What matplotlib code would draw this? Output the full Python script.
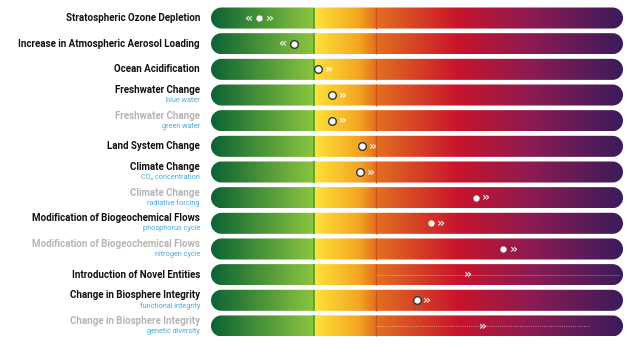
import numpy as np
import matplotlib.pyplot as plt
from matplotlib.colors import LinearSegmentedColormap
from matplotlib.patches import PathPatch
from matplotlib.path import Path

plt.rcParams['font.family'] = ['Roboto', 'DejaVu Sans']

# Planetary boundaries, position on a 0-100 scale (25 = boundary, 40 = high risk)
titles = ["Stratospheric Ozone Depletion", "Increase in Atmospheric Aerosol Loading",
          "Ocean Acidification", "Freshwater Change", "Freshwater Change",
          "Land System Change", "Climate Change", "Climate Change",
          "Modification of Biogeochemical Flows", "Modification of Biogeochemical Flows",
          "Introduction of Novel Entities", "Change in Biosphere Integrity",
          "Change in Biosphere Integrity"]
subtitles = ["", "", "", "blue water", "green water", "", "CO₂ concentration",
             "radiative forcing", "phosphorus cycle", "nitrogen cycle", "",
             "functional integrity", "genetic diversity"]
greyed = [False, False, False, False, True, False, False, True, False, True,
          False, False, True]
values = [11.7, 20.1, 26.0, 29.4, 29.4, 36.7, 36.2, 64.3, 53.4, 70.9, None, 50.0, None]
outlined = [False, True, True, True, True, True, True, False, False, False, False, True, False]
arrow_right = [True, False, True, True, True, True, True, True, True, True, True, True, True]
arrow_left = [True, True, False, False, False, False, False, False, False, False, False, False, False]
arrow_only_x = [None] * 10 + [62.4, None, 66.0]
range_lines = {10: (40, 99, '-'), 12: (40, 92, ':')}

safe_limit = 25
high_risk = 40

stops = [(0.0, "#0c6334"), (0.2499, "#8cc63f"), (0.25, "#ffe23a"),
         (0.36, "#f3a521"), (0.40, "#e3701f"), (0.60, "#c8142c"),
         (0.78, "#8c1b52"), (1.0, "#3b1b5c")]
cmap = LinearSegmentedColormap.from_list("pb", stops)

fig = plt.figure(figsize=(6.4, 3.6), dpi=100)
ax = fig.add_axes([211 / 640, 21.2 / 360, 412 / 640, 333.6 / 360])
n = len(titles)
ax.set_xlim(0, 100)
ax.set_ylim(n - 0.5, -0.5)
ax.axis('off')

bar_h = 0.82
rx = (bar_h / 2) * 25.67 * 100 / 412   # half-height in x units, so ends are round
ry = bar_h / 2
grad = np.linspace(0, 1, 512).reshape(1, -1)


def stadium(yc):
    t1 = np.linspace(np.pi / 2, 3 * np.pi / 2, 40)
    t2 = np.linspace(-np.pi / 2, np.pi / 2, 40)
    left = np.column_stack([rx + rx * np.cos(t1), yc - ry * np.sin(t1)])
    right = np.column_stack([100 - rx + rx * np.cos(t2), yc - ry * np.sin(t2)])
    pts = np.vstack([left, right, left[:1]])
    return Path(pts, closed=True)


for i in range(n):
    box = PathPatch(stadium(i), facecolor='none', edgecolor='none')
    ax.add_patch(box)
    im = ax.imshow(grad, cmap=cmap, extent=(0, 100, i + bar_h / 2, i - bar_h / 2),
                   aspect='auto', interpolation='bilinear')
    im.set_clip_path(box)
    ax.plot([safe_limit, safe_limit], [i - bar_h / 2, i + bar_h / 2],
            color="#3f9a2a", lw=1.1, solid_capstyle='butt')
    ax.plot([high_risk, high_risk], [i - bar_h / 2, i + bar_h / 2],
            color="#cf4f1c", lw=0.9, solid_capstyle='butt')

    if i in range_lines:
        x0, x1, ls = range_lines[i]
        ax.plot([x0, x1], [i, i], color='white', lw=0.6, ls=ls,
                alpha=0.25 if ls == '-' else 0.6)

    v = values[i]
    akw = dict(color='white', alpha=0.85, fontsize=9, fontweight='bold',
               ha='center', va='center', family='DejaVu Sans', zorder=5)
    if v is not None:
        if outlined[i]:
            ax.plot(v, i, 'o', ms=5.5, mfc='white', mec='#333333', mew=1.0, zorder=5)
        else:
            ax.plot(v, i, 'o', ms=4.5, mfc='white', mec='white', mew=0, zorder=5)
        if arrow_right[i]:
            ax.text(v + 2.5, i, "»", **akw)
        if arrow_left[i]:
            ax.text(v - 2.5, i, "«", **akw)
    elif arrow_only_x[i] is not None:
        ax.text(arrow_only_x[i], i, "»", **akw)

    tcol = "#b5b5b5" if greyed[i] else "#111111"
    tx = ax.get_yaxis_transform()
    if subtitles[i]:
        ax.text(-0.027, i - 0.19, titles[i], transform=tx, ha='right', va='center',
                fontsize=7, fontweight='bold', color=tcol)
        ax.text(-0.027, i + 0.22, subtitles[i], transform=tx, ha='right', va='center',
                fontsize=5.2, color="#4aa8df")
    else:
        ax.text(-0.027, i, titles[i], transform=tx, ha='right', va='center',
                fontsize=7, fontweight='bold', color=tcol)

fig.savefig("out.png", dpi=100)
